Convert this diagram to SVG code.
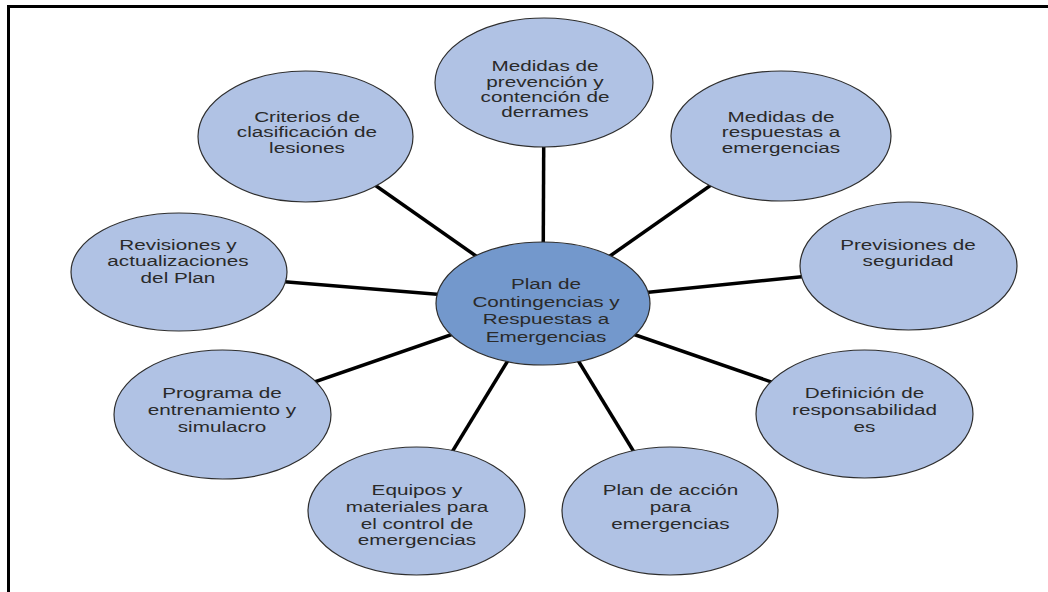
<svg xmlns="http://www.w3.org/2000/svg" width="1048" height="592" viewBox="0 0 1048 592">
<style>
.bg{fill:#ffffff}
.frame{fill:none;stroke:#000;stroke-width:3}
.conn line{stroke:#000;stroke-width:3.5}
.node ellipse{fill:#b0c2e4;stroke:#2e2e2e;stroke-width:1.2}
#n-center ellipse{fill:#7398cc}
text{font-family:"Liberation Sans",Arial,sans-serif;font-size:15px;fill:#2a2a2a;text-anchor:middle}
</style>
<rect class="bg" x="0" y="0" width="1048" height="592"/>
<path class="frame" d="M8.5,600 V6.5 H1060"/>
<g class="conn" id="connectors">
<line x1="543" y1="303" x2="544" y2="82"/>
<line x1="543" y1="303" x2="305" y2="136"/>
<line x1="543" y1="303" x2="781" y2="136"/>
<line x1="543" y1="303" x2="179" y2="273"/>
<line x1="543" y1="303" x2="908" y2="266"/>
<line x1="543" y1="303" x2="222" y2="414"/>
<line x1="543" y1="303" x2="864" y2="414"/>
<line x1="543" y1="303" x2="416" y2="511"/>
<line x1="543" y1="303" x2="670" y2="511"/>
</g>
<g class="node" id="n-top">
<ellipse cx="544" cy="82.5" rx="109" ry="64.5"/>
<g transform="translate(545,0) scale(1.38,1)">
<text x="0" y="71">Medidas de</text>
<text x="0" y="87">prevención y</text>
<text x="0" y="102">contención de</text>
<text x="0" y="117">derrames</text>
</g>
</g>
<g class="node" id="n-criterios">
<ellipse cx="305.5" cy="136.5" rx="107.5" ry="65.5"/>
<g transform="translate(307,0) scale(1.38,1)">
<text x="0" y="122">Criterios de</text>
<text x="0" y="137.5">clasificación de</text>
<text x="0" y="153">lesiones</text>
</g>
</g>
<g class="node" id="n-respuestas">
<ellipse cx="781" cy="136" rx="110" ry="65"/>
<g transform="translate(781,0) scale(1.38,1)">
<text x="0" y="122">Medidas de</text>
<text x="0" y="137.5">respuestas a</text>
<text x="0" y="153">emergencias</text>
</g>
</g>
<g class="node" id="n-revisiones">
<ellipse cx="179" cy="272" rx="108" ry="59"/>
<g transform="translate(178,0) scale(1.38,1)">
<text x="0" y="250">Revisiones y</text>
<text x="0" y="266.5">actualizaciones</text>
<text x="0" y="283">del Plan</text>
</g>
</g>
<g class="node" id="n-previsiones">
<ellipse cx="908.5" cy="266" rx="108.5" ry="64"/>
<g transform="translate(908,0) scale(1.38,1)">
<text x="0" y="250">Previsiones de</text>
<text x="0" y="266.5">seguridad</text>
</g>
</g>
<g class="node" id="n-center">
<ellipse cx="543" cy="303.5" rx="107" ry="61.5"/>
<g transform="translate(546,0) scale(1.38,1)">
<text x="0" y="289">Plan de</text>
<text x="0" y="307">Contingencias y</text>
<text x="0" y="324">Respuestas a</text>
<text x="0" y="342">Emergencias</text>
</g>
</g>
<g class="node" id="n-programa">
<ellipse cx="222.5" cy="414.5" rx="108.5" ry="64.5"/>
<g transform="translate(222,0) scale(1.38,1)">
<text x="0" y="398">Programa de</text>
<text x="0" y="415">entrenamiento y</text>
<text x="0" y="432">simulacro</text>
</g>
</g>
<g class="node" id="n-definicion">
<ellipse cx="864.5" cy="414" rx="108.5" ry="64"/>
<g transform="translate(864.5,0) scale(1.38,1)">
<text x="0" y="398">Definición de</text>
<text x="0" y="415">responsabilidad</text>
<text x="0" y="432">es</text>
</g>
</g>
<g class="node" id="n-equipos">
<ellipse cx="416.5" cy="511" rx="108.5" ry="64"/>
<g transform="translate(417,0) scale(1.38,1)">
<text x="0" y="495">Equipos y</text>
<text x="0" y="512">materiales para</text>
<text x="0" y="529">el control de</text>
<text x="0" y="545">emergencias</text>
</g>
</g>
<g class="node" id="n-accion">
<ellipse cx="670" cy="511" rx="108" ry="64"/>
<g transform="translate(670.5,0) scale(1.38,1)">
<text x="0" y="495">Plan de acción</text>
<text x="0" y="512">para</text>
<text x="0" y="529">emergencias</text>
</g>
</g>
</svg>
